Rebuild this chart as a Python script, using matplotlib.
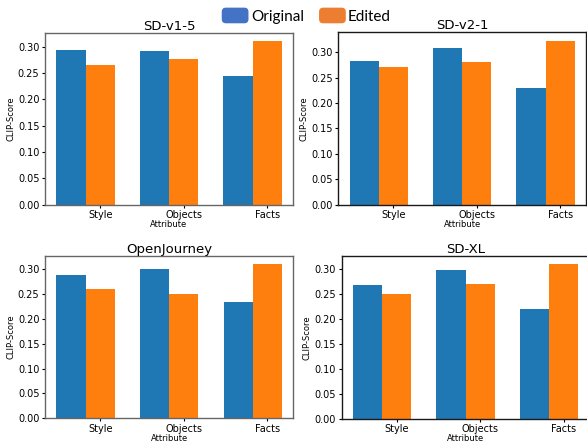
import numpy as np
import matplotlib
matplotlib.use("Agg")
import matplotlib.pyplot as plt
from matplotlib.patches import Patch, FancyBboxPatch
from matplotlib.legend_handler import HandlerPatch

attributes = ["Style", "Objects", "Facts"]
models = ["SD-v1-5", "SD-v2-1", "OpenJourney", "SD-XL"]

original = {
    "SD-v1-5": [0.294, 0.291, 0.245],
    "SD-v2-1": [0.282, 0.308, 0.229],
    "OpenJourney": [0.288, 0.300, 0.234],
    "SD-XL": [0.268, 0.297, 0.220],
}
edited = {
    "SD-v1-5": [0.266, 0.277, 0.311],
    "SD-v2-1": [0.270, 0.280, 0.323],
    "OpenJourney": [0.261, 0.250, 0.311],
    "SD-XL": [0.249, 0.270, 0.310],
}

# axes boxes (left, bottom, width, height) in figure fractions
positions = [
    [0.0767, 0.541, 0.4225, 0.3857],
    [0.5763, 0.541, 0.4220, 0.3865],
    [0.0767, 0.062, 0.4230, 0.3640],
    [0.5821, 0.061, 0.4225, 0.3650],
]
spine_colors = ["0.4", "0.1", "0.4", "0.1"]


class RoundHandler(HandlerPatch):
    def create_artists(self, legend, orig_handle, xdescent, ydescent,
                       width, height, fontsize, trans):
        p = FancyBboxPatch((-xdescent, -ydescent), width, height,
                           boxstyle="round,pad=0,rounding_size=3",
                           facecolor=orig_handle.get_facecolor(),
                           edgecolor="none", transform=trans)
        return [p]


fig = plt.figure(figsize=(5.87, 4.46), dpi=100)

width = 0.35
x = np.arange(len(attributes))

for i, model in enumerate(models):
    ax = fig.add_axes(positions[i])
    ax.bar(x, original[model], width, color="#1f77b4")
    ax.bar(x + width, edited[model], width, color="#ff7f0e")
    ax.set_xticks(x + width)
    ax.set_xticklabels(attributes)
    ax.set_yticks(np.arange(0, 0.31, 0.05))
    ax.tick_params(labelsize=7, length=2.5, pad=1.5)
    ax.set_xlabel("Attribute", fontsize=6, labelpad=0)
    ax.set_ylabel("CLIP-Score", fontsize=6, labelpad=2)
    ax.set_title(model, fontsize=9.5, pad=1.5)
    for s in ax.spines.values():
        s.set_color(spine_colors[i])
        s.set_linewidth(1.0)

handles = [Patch(facecolor="#4472C4", label="Original"),
           Patch(facecolor="#ED7D31", label="Edited")]
fig.legend(handles=handles, loc="upper center", bbox_to_anchor=(0.522, 1.0),
           ncol=2, frameon=False, prop={"family": "Lato", "size": 11},
           handlelength=1.75, handleheight=1.2, handletextpad=0.15,
           columnspacing=1.0, borderaxespad=0.1,
           handler_map={Patch: RoundHandler()})

fig.savefig("out.png", dpi=100)
